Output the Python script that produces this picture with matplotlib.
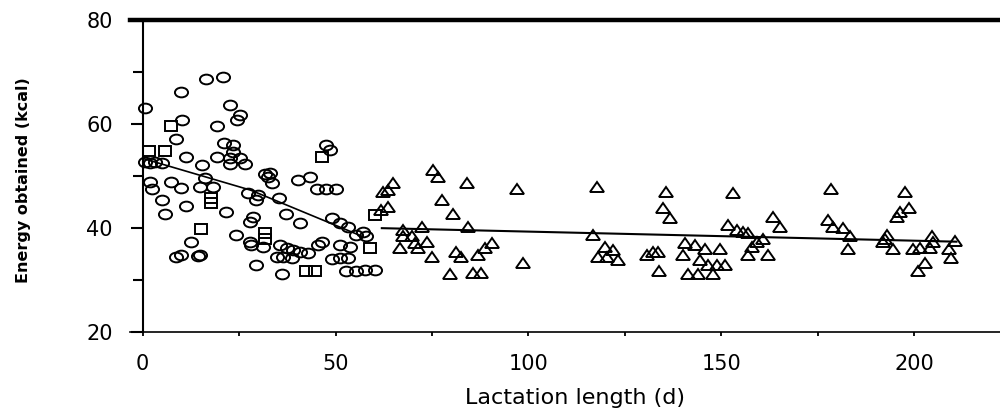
import matplotlib
matplotlib.use("Agg")
import matplotlib.pyplot as plt
from matplotlib.markers import MarkerStyle
from matplotlib.transforms import Affine2D
from matplotlib.ticker import MultipleLocator

# early lactation (circles)
circ_x = [0.5, 9.8, 16.5, 20.7, 22.6, 25.2, 24.5, 10.3, 19.3, 8.5, 21.1, 23.4, 23.4,
          11.3, 19.3, 22.6, 22.6, 25.2, 26.5, 15.5, 0.5, 1.8, 3.1, 4.9, 31.6, 16.1,
          1.8, 2.3, 7.4, 10.0, 14.8, 18.2, 27.3, 29.9, 29.5, 4.9, 11.3, 5.7, 21.7,
          28.6, 27.8, 24.3, 27.8, 31.2, 12.6, 8.7, 10.0, 14.3, 14.8, 29.5, 47.5,
          48.5, 32.9, 32.5, 33.4, 40.3, 43.3, 45.1, 47.5, 50.1, 35.4, 37.1, 40.7,
          49.0, 51.1, 53.3, 28.2, 35.5, 37.3, 39.0, 40.7, 42.9, 45.5, 46.4, 34.7,
          36.4, 38.6, 51.1, 53.7, 49.0, 51.1, 53.3, 55.4, 57.2, 58.0, 36.0, 52.8,
          55.4, 57.6, 60.2]
circ_y = [62.9, 66.0, 68.6, 69.0, 63.6, 61.7, 60.6, 60.6, 59.5, 57.0, 56.3, 55.8, 54.5,
          53.5, 53.6, 53.3, 52.3, 53.3, 52.3, 52.0, 52.6, 52.4, 52.6, 52.4, 50.4, 49.6,
          48.8, 47.5, 48.8, 47.7, 47.8, 47.8, 46.6, 46.2, 45.3, 45.4, 44.1, 42.6, 43.0,
          42.1, 41.1, 38.6, 37.3, 36.3, 37.3, 34.4, 34.8, 34.6, 34.8, 32.8, 55.8,
          54.9, 50.5, 49.8, 48.5, 49.1, 49.8, 47.4, 47.5, 47.5, 45.6, 42.7, 40.8,
          41.8, 40.8, 40.2, 36.7, 36.7, 36.0, 35.7, 35.4, 35.1, 36.7, 37.3, 34.4,
          34.4, 34.1, 36.7, 36.3, 33.9, 34.1, 34.1, 38.6, 39.2, 38.3, 31.1, 31.6,
          31.6, 31.9, 31.9]

# squares
sq_x = [17.8, 17.8, 15.2, 31.6, 31.6, 46.4, 58.9, 42.4, 44.6, 60.2, 7.3, 1.6, 5.7]
sq_y = [45.6, 44.8, 39.7, 38.9, 37.9, 53.5, 36.0, 31.6, 31.6, 42.4, 59.5, 54.7, 54.7]

# late lactation (triangles)
tri_x = [64.9, 63.6, 62.3, 63.6, 61.9, 67.5, 66.7, 75.3, 76.6, 84.0, 97.1, 117.7, 77.7,
         80.5, 84.4, 72.3, 67.5, 69.7, 70.6, 71.4, 73.6, 74.9, 81.3, 82.6, 87.0, 88.7,
         90.7, 98.6, 79.6, 85.7, 87.8, 116.8, 118.1,
         135.8, 153.1, 135.0, 136.7, 151.8, 154.0, 155.7, 157.0, 163.5, 165.2, 160.9,
         159.2, 157.9, 157.0, 162.2, 119.8, 122.0, 120.3, 123.3, 130.7, 132.4, 133.7,
         133.9, 140.6, 143.2, 145.8, 149.7, 140.2, 144.5, 146.6, 148.8, 151.0, 141.5,
         144.1, 147.9,
         178.6, 197.7, 198.6, 196.4, 195.5, 177.8, 179.1, 181.7, 183.4, 183.0, 192.9,
         192.5, 192.0, 194.6, 199.8, 201.6, 204.2, 204.6, 205.0, 210.6, 209.2, 209.6,
         202.9, 201.1]
tri_y = [48.5, 47.3, 46.9, 44.0, 43.4, 39.5, 36.0, 51.0, 49.8, 48.6, 47.5, 47.8, 45.3,
         42.6, 40.2, 40.1, 38.3, 38.3, 37.0, 36.0, 37.3, 34.4, 35.4, 34.4, 34.8, 36.0,
         37.0, 33.2, 31.1, 31.2, 31.2, 38.6, 34.4,
         46.9, 46.7, 43.7, 41.9, 40.5, 39.5, 39.2, 38.9, 42.0, 40.2, 37.9,
         37.3, 36.3, 34.8, 34.8, 36.3, 35.7, 34.4, 33.7, 34.8, 35.4, 35.4,
         31.7, 37.0, 36.7, 35.8, 35.8, 34.8, 33.8, 32.8, 32.8, 32.8, 31.1,
         31.1, 31.1,
         47.5, 46.9, 43.7, 43.1, 42.0, 41.5, 40.2, 39.9, 38.3, 35.8, 38.6,
         37.9, 37.3, 35.8, 35.8, 36.0, 36.0, 38.4, 37.3, 37.5, 35.8, 34.1,
         33.2, 31.6]

# fitted lines
fit1_x = [0, 28, 57]
fit1_y = [53.3, 47.2, 38.3]
fit2_x = [62, 211]
fit2_y = [39.9, 37.3]

x_ticks = [0, 50, 100, 150, 200]
y_ticks = [20, 40, 60, 80]

fig = plt.figure(figsize=(10, 4.09), dpi=100)
ax = fig.add_axes([0.13, 0.189, 0.87, 0.7633])

stretch = Affine2D().scale(1.35, 1.0)
circ_m = MarkerStyle('o', transform=stretch)
sq_m = MarkerStyle('s', transform=stretch)
tri_m = MarkerStyle('^', transform=stretch)

style = dict(linestyle='none', mec='black', mfc='none', mew=1.4)
ax.plot(circ_x, circ_y, marker=circ_m, ms=7, **style)
ax.plot(sq_x, sq_y, marker=sq_m, ms=6.5, **style)
ax.plot(tri_x, tri_y, marker=tri_m, ms=7.5, **style)

ax.plot(fit1_x, fit1_y, color='black', lw=1.2)
ax.plot(fit2_x, fit2_y, color='black', lw=1.5)

ax.set_xlim(-3.3, 222.3)
ax.set_ylim(20, 80)
ax.set_xticks(x_ticks)
ax.set_yticks(y_ticks)
ax.xaxis.set_minor_locator(MultipleLocator(25))
ax.yaxis.set_minor_locator(MultipleLocator(10))

ax.spines['right'].set_visible(False)
ax.spines['left'].set_position(('data', 0))
ax.spines['left'].set_linewidth(1.5)
ax.spines['bottom'].set_linewidth(1.2)
ax.spines['top'].set_linewidth(3.2)

ax.tick_params(axis='x', which='both', direction='out', length=3, width=1.3,
               pad=13, labelsize=15)
ax.tick_params(axis='y', which='major', direction='out', length=8.6, width=1.5,
               pad=13, labelsize=15)
ax.tick_params(axis='y', which='minor', direction='out', length=7.2, width=1.5)

ax.set_xlabel('Lactation length (d)', fontsize=16, va='top')
ax.xaxis.set_label_coords(0.5115, -0.18)
ax.set_ylabel('Energy obtained (kcal)', fontsize=11.5, fontweight='bold', va='center')
ax.yaxis.set_label_coords(-0.1224, 0.487)

fig.savefig('out.png', dpi=100)
